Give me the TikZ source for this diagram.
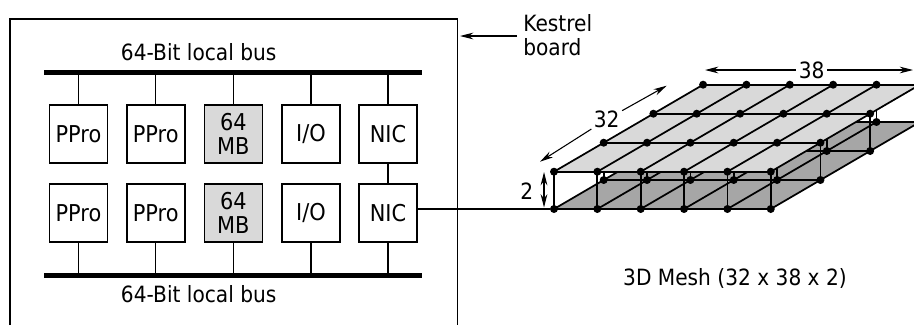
\documentclass[tikz,border=0pt]{standalone}
\usepackage{fontspec}
\setmainfont{DejaVu Sans}[FakeStretch=0.9]
\usetikzlibrary{arrows,arrows.meta,positioning,calc}
\definecolor{planetop}{gray}{0.85}
\definecolor{planelow}{gray}{0.65}
\tikzset{
  lbl/.style={inner sep=0pt,align=center,font=\fontsize{16.8}{18}\selectfont},
  unit/.style={draw,line width=1.2pt,minimum size=43.5pt,inner sep=0pt,align=center,font=\fontsize{17.4}{18}\selectfont},
  mem/.style={unit,fill=planetop},
  bus/.style={line width=3.75pt},
  link/.style={line width=1.1pt},
  meshline/.style={line width=1.3pt},
  meshdot/.style={circle,fill=black,inner sep=0pt,minimum size=6pt},
  dim/.style={line width=0.8pt,>={Stealth[length=10pt,width=5pt]}}
}
\begin{document}
\begin{tikzpicture}[x=0.75pt,y=-0.75pt]
  \useasboundingbox (0,0) rectangle (914,325);

  % board
  \coordinate (bl) at (10,325);
  \coordinate (tl) at (10,19);
  \coordinate (tr) at (457.5,19);
  \coordinate (br) at (457.5,325);
  \draw[line width=1.2pt] (bl) -- (tl) -- (tr) -- (br);

  % local buses
  \coordinate (bus1w) at (44,72);
  \coordinate (bus1e) at (422,72);
  \coordinate (bus2w) at (44,275);
  \coordinate (bus2e) at (422,275);
  \draw[bus] (bus1w) -- (bus1e);
  \draw[bus] (bus2w) -- (bus2e);
  \node[lbl] (lbus1) at (198.7,52) {64-Bit local bus};
  \node[lbl] (lbus2) at (198.7,294) {64-Bit local bus};

  % upper row
  \node[unit] (ppro1) at (78.5,134) {PPro};
  \node[unit] (ppro2) at (155.7,134) {PPro};
  \node[mem]  (mem1)  at (233.3,134) {64\\MB};
  \node[unit] (io1)   at (311,134) {I/O};
  \node[unit] (nic1)  at (388,134) {NIC};

  % lower row
  \node[unit] (ppro3) at (78.5,213) {PPro};
  \node[unit] (ppro4) at (155.7,213) {PPro};
  \node[mem]  (mem2)  at (233.3,213) {64\\MB};
  \node[unit] (io2)   at (311,213) {I/O};
  \node[unit] (nic2)  at (388,213) {NIC};

  % bus links
  \foreach \n in {ppro1,ppro2,mem1,io1,nic1}
    \draw[link] (\n.north) -- (\n.north |- bus1w);
  \foreach \n in {ppro3,ppro4,mem2,io2,nic2}
    \draw[link] (\n.south) -- (\n.south |- bus2w);
  \draw[link] (nic1) -- (nic2);

  % mesh, lower plane
  \foreach \j in {0,...,3}
    \foreach \i in {0,...,5} {
      \coordinate (a-\i-\j) at ({554+43.35*\i+49.7*\j},{209-29*\j});
      \coordinate (b-\i-\j) at ({554+43.35*\i+49.7*\j},{171.7-29*\j});
    }
  \fill[planelow] (a-0-0) -- (a-5-0) -- (a-5-3) -- (a-0-3) -- cycle;
  \foreach \j in {0,...,3}
    \draw[meshline] (a-0-\j) -- (a-5-\j);
  \foreach \i in {0,...,5}
    \draw[meshline] (a-\i-0) -- (a-\i-3);
  \foreach \j in {0,...,3}
    \foreach \i in {0,...,5} {
      \node[meshdot] (lo-\i-\j) at (a-\i-\j) {};
      \draw[meshline] (a-\i-\j) -- (b-\i-\j);
    }

  % mesh, upper plane
  \fill[planetop] (b-0-0) -- (b-5-0) -- (b-5-3) -- (b-0-3) -- cycle;
  \foreach \j in {0,...,3}
    \draw[meshline] (b-0-\j) -- (b-5-\j);
  \foreach \i in {0,...,5}
    \draw[meshline] (b-\i-0) -- (b-\i-3);
  \foreach \j in {0,...,3}
    \foreach \i in {0,...,5}
      \node[meshdot] (up-\i-\j) at (b-\i-\j) {};

  % link to mesh
  \draw[link] (nic2.east |- lo-0-0) -- (lo-0-0);

  % kestrel label
  \node[lbl,align=left,anchor=west] (kestrel) at (523,35) {Kestrel\\board};
  \coordinate (ktip) at (460,36);
  \coordinate (ktail) at (517,36);
  \draw[dim,->] (ktail) -- (ktip);

  % mesh dimensions
  \node[lbl] (l38) at (811.7,70) {38};
  \coordinate (a38w) at (705,70);
  \coordinate (a38e) at (913,70);
  \draw[dim,->,shorten <=2pt] (l38) -- (a38w);
  \draw[dim,->,shorten <=2pt] (l38) -- (a38e);
  \node[lbl] (l32) at (606.7,119.3) {32};
  \coordinate (a32w) at (540,161.7);
  \coordinate (a32e) at (666.7,85.7);
  \draw[dim,->,shorten <=2pt] (l32) -- (a32w);
  \draw[dim,->,shorten <=2pt] (l32) -- (a32e);
  \node[lbl] (l2) at (526.7,191) {2};
  \coordinate (a2n) at (544,172);
  \coordinate (a2s) at (544,207.5);
  \draw[dim,<->] (a2n) -- (a2s);

  \node[lbl] (lmesh) at (735,278) {3D Mesh (32 x 38 x 2)};
\end{tikzpicture}
\end{document}
